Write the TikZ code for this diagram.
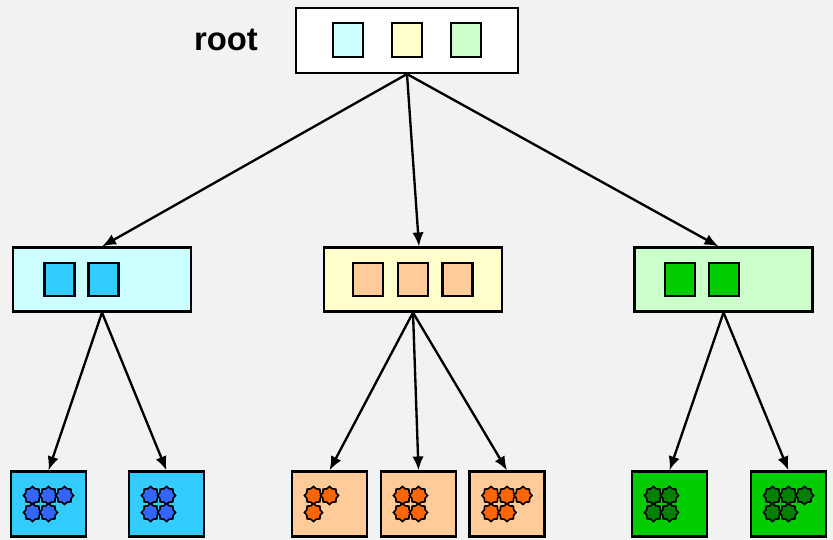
\documentclass[tikz,border=0pt]{standalone}
\usepackage{fontspec}
\setmainfont{Liberation Sans}
\usetikzlibrary{shapes.geometric,arrows.meta}

\definecolor{bg}{HTML}{F2F2F2}
\definecolor{cyanlt}{HTML}{CCFFFF}
\definecolor{yellowlt}{HTML}{FFFFCC}
\definecolor{greenlt}{HTML}{CCFFCC}
\definecolor{cyanmd}{HTML}{33CCFF}
\definecolor{orangemd}{HTML}{FFCC99}
\definecolor{greenmd}{HTML}{00CC00}
\definecolor{bluedk}{HTML}{3366FF}
\definecolor{orangedk}{HTML}{FF6600}
\definecolor{greendk}{HTML}{008000}

\tikzset{
  box/.style={draw,minimum width=5.34cm,minimum height=1.92cm,inner sep=0pt},
  slot/.style={draw,minimum width=0.9cm,minimum height=1cm,inner sep=0pt},
  leaf/.style={draw,minimum width=2.25cm,minimum height=1.95cm,inner sep=0pt},
  item/.style={star,star points=8,star point ratio=1.25,draw,line width=1.4pt,
    minimum size=0.54cm,inner sep=0pt},
  link/.style={->,line width=2pt},
}

\begin{document}
\begin{tikzpicture}[x=0.03cm,y=-0.03cm,line width=1.8pt,
  >={Latex[length=4.2mm,width=3.4mm]}]
\fill[bg] (0,0) rectangle (833,540);
\node (label) at (226,40) {\fontsize{28}{30}\selectfont\bfseries root};
% root
\node[box,fill=white,minimum width=6.66cm,minimum height=1.95cm] (root) at (407,40.5) {};
\node[slot,fill=cyanlt] (r1) at (348,40) {};
\node[slot,fill=yellowlt] (r2) at (407,40) {};
\node[slot,fill=greenlt] (r3) at (466,40) {};
% second level
\node[box,fill=cyanlt] (a) at (102,279.5) {};
\node[slot,fill=cyanmd] (a0) at (59.5,279.5) {};
\node[slot,fill=cyanmd] (a9) at (103.5,279.5) {};
\node[box,fill=yellowlt] (b) at (413,279.5) {};
\node[slot,fill=orangemd] (b0) at (368,279.5) {};
\node[slot,fill=orangemd] (b8) at (413,279.5) {};
\node[slot,fill=orangemd] (b9) at (457.5,279.5) {};
\node[box,fill=greenlt] (c) at (723.5,279.5) {};
\node[slot,fill=greenmd] (c0) at (680,279.5) {};
\node[slot,fill=greenmd] (c9) at (724,279.5) {};
% leaves
\node[leaf,fill=cyanmd] (a1) at (48.5,504) {};
\node[leaf,fill=cyanmd] (a2) at (166.5,504) {};
\node[leaf,fill=orangemd] (b1) at (329.5,504) {};
\node[leaf,fill=orangemd] (b2) at (418.5,504) {};
\node[leaf,fill=orangemd] (b3) at (507,504) {};
\node[leaf,fill=greenmd] (c1) at (669.5,504) {};
\node[leaf,fill=greenmd] (c2) at (788.5,504) {};
\foreach \lf/\up/\dn/\col in {a1/3/2/bluedk,a2/2/2/bluedk,b1/2/1/orangedk,
    b2/2/2/orangedk,b3/3/2/orangedk,c1/2/2/greendk,c2/3/2/greendk} {
  \foreach \i in {1,...,\up}
    \node[item,fill=\col] (\lf u\i) at ([shift={({(\i-2)*16},-8.5)}]\lf.center) {};
  \foreach \i in {1,...,\dn}
    \node[item,fill=\col] (\lf d\i) at ([shift={({(\i-2)*16},8.5)}]\lf.center) {};
}
% edges
\draw (root.south) edge[link] (a.north);
\draw (root.south) edge[link] ([xshift=0.18cm]b.north);
\draw (root.south) edge[link] ([xshift=-0.15cm]c.north);
\draw (a.south) edge[link] (a1.north);
\draw (a.south) edge[link] (a2.north);
\draw (b.south) edge[link] (b1.north);
\draw (b.south) edge[link] (b2.north);
\draw (b.south) edge[link] (b3.north);
\draw (c.south) edge[link] (c1.north);
\draw (c.south) edge[link] (c2.north);
\end{tikzpicture}
\end{document}
